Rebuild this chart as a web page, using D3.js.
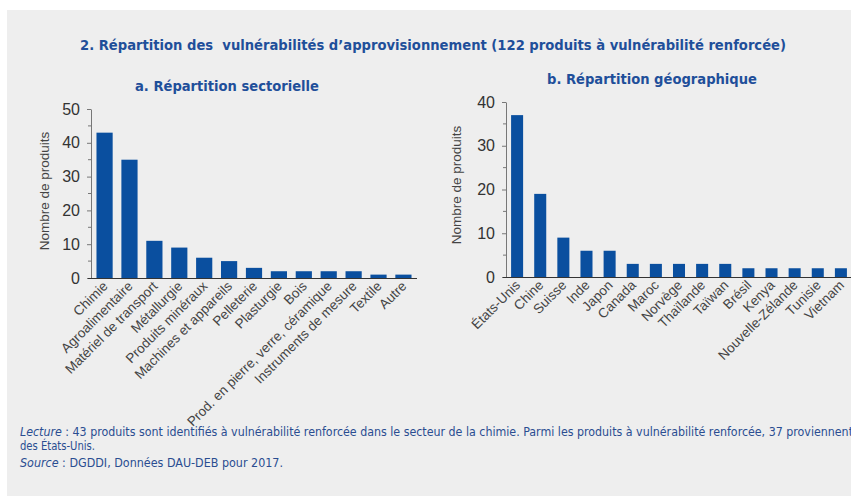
<!DOCTYPE html>
<html><head><meta charset="utf-8">
<script src="https://cdn.jsdelivr.net/npm/d3@7/dist/d3.min.js"></script>
<style>
body{margin:0;padding:0;background:#fff;}
svg{display:block;}
text{white-space:pre;}
</style></head>
<body>
<svg id="c" width="851" height="496"></svg>
<script>
const sectors = ["Chimie","Agroalimentaire","Matériel de transport","Métallurgie","Produits minéraux","Machines et appareils","Pelleterie","Plasturgie","Bois","Prod. en pierre, verre, céramique","Instruments de mesure","Textile","Autre"];
const sectorValues = [43,35,11,9,6,5,3,2,2,2,2,1,1];
const countries = ["États-Unis","Chine","Suisse","Inde","Japon","Canada","Maroc","Norvège","Thaïlande","Taïwan","Brésil","Kenya","Nouvelle-Zélande","Tunisie","Vietnam"];
const countryValues = [37,19,9,6,6,3,3,3,3,3,2,2,2,2,2];
const sectorTicks = [0,10,20,30,40,50];
const countryTicks = [0,10,20,30,40];

const svg = d3.select("#c");
const BLUE = "#0a4f9f";
const TBLUE = "#1f4f9a";
const condensed = "'Liberation Sans Narrow','DejaVu Sans Condensed','Roboto',sans-serif";
const sans = "'Liberation Sans',Arial,sans-serif";

svg.append("rect").attr("x",7).attr("y",10).attr("width",844).attr("height",486).attr("fill","#eeeeee");

svg.append("text").attr("x",80).attr("y",50).attr("font-family",condensed).attr("font-weight","bold")
  .attr("font-size",14.5).attr("fill",TBLUE).attr("textLength",706).attr("lengthAdjust","spacingAndGlyphs")
  .text("2. Répartition des  vulnérabilités d’approvisionnement (122 produits à vulnérabilité renforcée)");

function panel(cfg){
  const x = d3.scaleBand().domain(cfg.cats).range([cfg.x0,cfg.x1]).paddingInner(cfg.pi).paddingOuter(cfg.po);
  const y = d3.scaleLinear().domain([0,cfg.max]).range([cfg.y0,cfg.yTop]);
  const g = svg.append("g");
  g.append("text").attr("x",cfg.tx).attr("y",cfg.ty).attr("font-family",condensed).attr("font-weight","bold")
    .attr("font-size",14.5).attr("fill",TBLUE).attr("textLength",cfg.tw).attr("lengthAdjust","spacingAndGlyphs")
    .text(cfg.title);
  g.selectAll("rect.bar").data(cfg.vals).join("rect").attr("class","bar")
    .attr("x",(d,i)=>x(cfg.cats[i])).attr("width",x.bandwidth())
    .attr("y",d=>y(d)).attr("height",d=>y(0)-y(d)).attr("fill",BLUE);
  const minor = d3.range(5,cfg.max,10);
  const ya = g.append("g").attr("transform",`translate(${cfg.x0},0)`)
    .call(d3.axisLeft(y).tickValues(cfg.ticks).tickSize(4).tickSizeOuter(0).tickPadding(7));
  ya.select(".domain").attr("stroke","#777");
  ya.selectAll(".tick line").attr("stroke","#777");
  ya.selectAll(".tick text").attr("font-family",sans).attr("font-size",16).attr("fill","#333");
  ya.selectAll("line.minor").data(minor).join("line").attr("class","minor")
    .attr("x1",-3).attr("x2",0).attr("y1",d=>y(d)).attr("y2",d=>y(d)).attr("stroke","#777");
  g.append("line").attr("x1",cfg.x0-3).attr("x2",cfg.x1).attr("y1",cfg.y0+0.5).attr("y2",cfg.y0+0.5)
    .attr("stroke","#333").attr("stroke-width",1.2);
  g.selectAll("text.xl").data(cfg.cats).join("text").attr("class","xl")
    .attr("transform",d=>`translate(${x(d)+x.bandwidth()/2+4},${cfg.y0+9}) rotate(-45)`)
    .attr("text-anchor","end").attr("font-family",sans).attr("font-size",13.5).attr("fill","#444")
    .text(d=>d);
  g.append("text").attr("transform",`translate(${cfg.lx},${cfg.ly}) rotate(-90)`).attr("text-anchor","middle")
    .attr("font-family",sans).attr("font-size",13.5).attr("fill","#444").text("Nombre de produits");
}

panel({cats:sectors, vals:sectorValues, ticks:sectorTicks, max:50, x0:91, x1:417, pi:0.35, po:0.22,
  y0:278, yTop:109, title:"a. Répartition sectorielle", tx:135, ty:91, tw:184, lx:49, ly:191});
panel({cats:countries, vals:countryValues, ticks:countryTicks, max:40, x0:506, x1:852, pi:0.48, po:0.22,
  y0:277, yTop:102, title:"b. Répartition géographique", tx:547, ty:84, tw:210, lx:461, ly:185});

const foot = svg.append("g").attr("font-family",condensed).attr("font-size",12).attr("fill","#2a4d91");
const t1 = foot.append("text").attr("x",20).attr("y",436).attr("textLength",833).attr("lengthAdjust","spacingAndGlyphs");
t1.append("tspan").attr("font-style","italic").text("Lecture");
t1.append("tspan").text(" : 43 produits sont identifiés à vulnérabilité renforcée dans le secteur de la chimie. Parmi les produits à vulnérabilité renforcée, 37 proviennent");
foot.append("text").attr("x",20).attr("y",450).attr("textLength",75).attr("lengthAdjust","spacingAndGlyphs").text("des États-Unis.");
const t3 = foot.append("text").attr("x",20).attr("y",467).attr("textLength",263).attr("lengthAdjust","spacingAndGlyphs");
t3.append("tspan").attr("font-style","italic").text("Source");
t3.append("tspan").text(" : DGDDI, Données DAU-DEB pour 2017.");
</script>
</body></html>
